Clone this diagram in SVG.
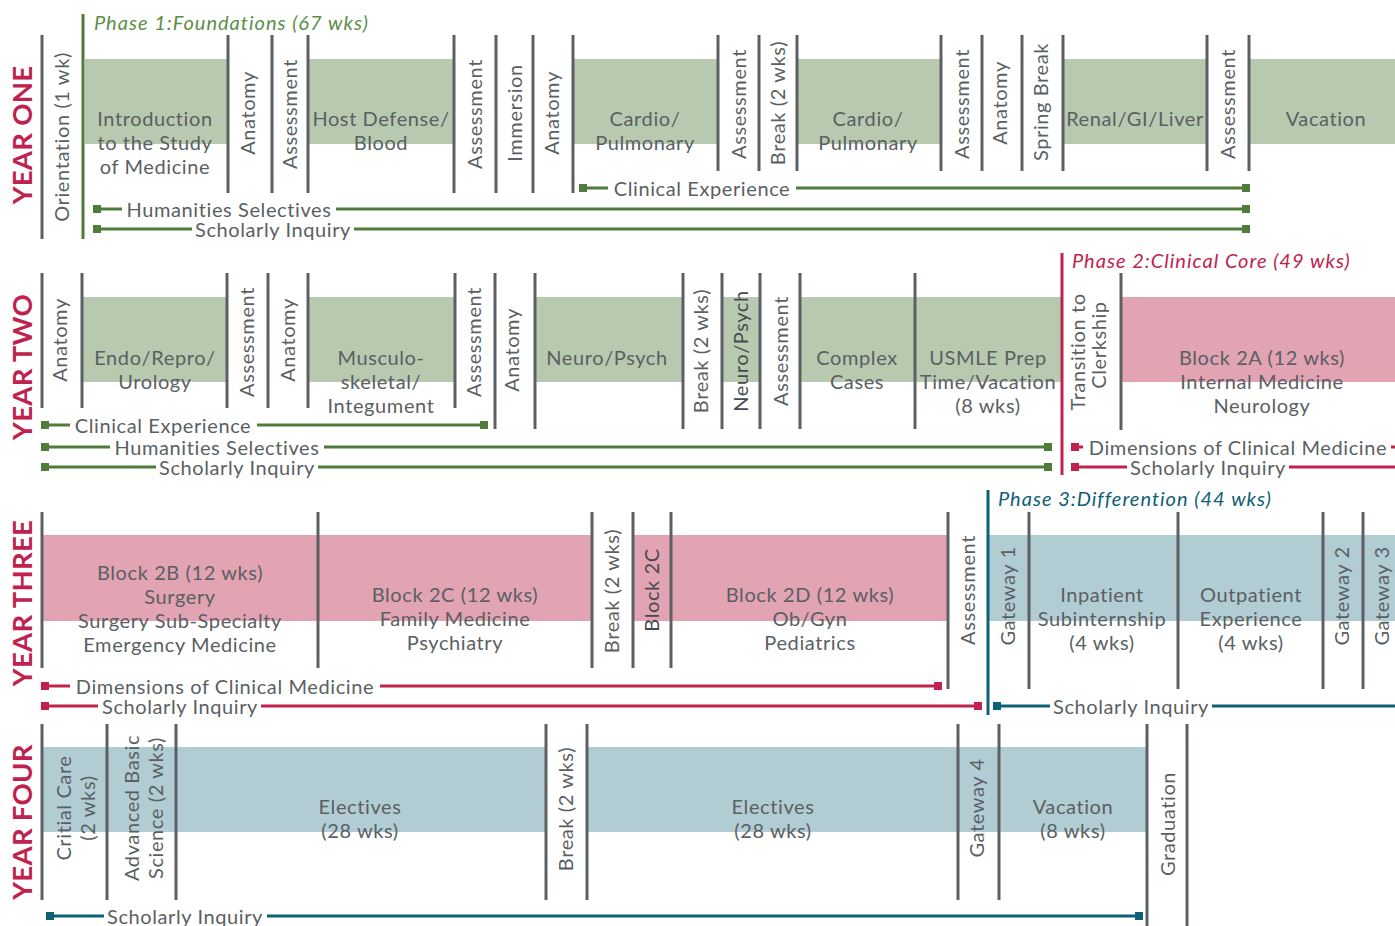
<svg xmlns="http://www.w3.org/2000/svg" width="1395" height="926" viewBox="0 0 1395 926">
<style>
text{font-family:Lato,"Liberation Sans",sans-serif;font-size:20px;fill:#5a5f63;letter-spacing:0.6px}
.c{text-anchor:middle}
.dk{fill:#464a4e}
.yr{font-weight:bold;font-size:27.5px;fill:#c0224e;text-anchor:middle;letter-spacing:0.3px}
.ph{font-style:italic;letter-spacing:1px}
.div{stroke:#5c6064;stroke-width:3}
.gb{fill:#b7cab0}.pb{fill:#e2a3b2}.tb{fill:#b2ccd3}
.gl{stroke:#4f7b3b;stroke-width:3}.gs{fill:#4f7b3b}
.rl{stroke:#c0224e;stroke-width:3}.rs{fill:#c0224e}
.tl{stroke:#0e6075;stroke-width:3}.ts{fill:#0e6075}
</style>
<rect width="1395" height="926" fill="#fff"/>

<!-- ===== YEAR ONE ===== -->
<g id="year-one">
<text class="yr" transform="translate(32,135) rotate(-90)">YEAR ONE</text>
<g class="bands">
<rect class="gb" x="85" y="59" width="143" height="85"/>
<rect class="gb" x="308" y="59" width="146" height="85"/>
<rect class="gb" x="573" y="59" width="145" height="85"/>
<rect class="gb" x="797" y="59" width="144" height="85"/>
<rect class="gb" x="1063" y="59" width="144" height="85"/>
<rect class="gb" x="1249" y="59" width="146" height="85"/>
</g>
<g class="dividers">
<line class="div" x1="42" y1="35" x2="42" y2="239"/>
<line class="div" x1="228" y1="35" x2="228" y2="193"/>
<line class="div" x1="272" y1="35" x2="272" y2="193"/>
<line class="div" x1="308" y1="35" x2="308" y2="193"/>
<line class="div" x1="454" y1="35" x2="454" y2="193"/>
<line class="div" x1="496" y1="35" x2="496" y2="193"/>
<line class="div" x1="533" y1="35" x2="533" y2="193"/>
<line class="div" x1="573" y1="35" x2="573" y2="193"/>
<line class="div" x1="718" y1="35" x2="718" y2="171"/>
<line class="div" x1="759" y1="35" x2="759" y2="171"/>
<line class="div" x1="797" y1="35" x2="797" y2="171"/>
<line class="div" x1="941" y1="35" x2="941" y2="171"/>
<line class="div" x1="982" y1="35" x2="982" y2="171"/>
<line class="div" x1="1022" y1="35" x2="1022" y2="171"/>
<line class="div" x1="1063" y1="35" x2="1063" y2="171"/>
<line class="div" x1="1207" y1="35" x2="1207" y2="171"/>
<line class="div" x1="1249" y1="35" x2="1249" y2="171"/>
</g>
<g id="phase1">
<line class="gl" x1="83" y1="14" x2="83" y2="239"/>
<text class="ph" x="94" y="30" style="fill:#5a8f47">Phase 1:Foundations (67 wks)</text>
</g>
<g id="y1-orientation"><text class="c" transform="translate(69,137) rotate(-90)">Orientation (1 wk)</text></g>
<g id="y1-intro"><text class="c" x="155" y="126">Introduction</text><text class="c" x="155" y="150">to the Study</text><text class="c" x="155" y="174">of Medicine</text></g>
<g id="y1-anatomy1"><text class="c" transform="translate(255,113) rotate(-90)">Anatomy</text></g>
<g id="y1-assess1"><text class="c" transform="translate(297,114) rotate(-90)">Assessment</text></g>
<g id="y1-host"><text class="c" x="381" y="126">Host Defense/</text><text class="c" x="381" y="150">Blood</text></g>
<g id="y1-assess2"><text class="c" transform="translate(482,114) rotate(-90)">Assessment</text></g>
<g id="y1-immersion"><text class="c" transform="translate(522,113) rotate(-90)">Immersion</text></g>
<g id="y1-anatomy2"><text class="c" transform="translate(559,113) rotate(-90)">Anatomy</text></g>
<g id="y1-cardio1"><text class="c" x="645" y="126">Cardio/</text><text class="c" x="645" y="150">Pulmonary</text></g>
<g id="y1-assess3"><text class="c" transform="translate(746,104) rotate(-90)">Assessment</text></g>
<g id="y1-break"><text class="c" transform="translate(785,103) rotate(-90)">Break (2 wks)</text></g>
<g id="y1-cardio2"><text class="c" x="868" y="126">Cardio/</text><text class="c" x="868" y="150">Pulmonary</text></g>
<g id="y1-assess4"><text class="c" transform="translate(969,104) rotate(-90)">Assessment</text></g>
<g id="y1-anatomy3"><text class="c" transform="translate(1007,103) rotate(-90)">Anatomy</text></g>
<g id="y1-spring"><text class="c" transform="translate(1048,102) rotate(-90)">Spring Break</text></g>
<g id="y1-renal"><text class="c" x="1135" y="126">Renal/GI/Liver</text></g>
<g id="y1-assess5"><text class="c" transform="translate(1235,104) rotate(-90)">Assessment</text></g>
<g id="y1-vacation"><text class="c" x="1326" y="126">Vacation</text></g>
</g>

<!-- ===== YEAR TWO ===== -->
<g id="year-two">
<text class="yr" transform="translate(32,367) rotate(-90)">YEAR TWO</text>
<g class="bands">
<rect class="gb" x="82" y="297" width="145" height="85"/>
<rect class="gb" x="308" y="297" width="147" height="85"/>
<rect class="gb" x="535" y="297" width="148" height="85"/>
<rect class="gb" x="722" y="297" width="38" height="85"/>
<rect class="gb" x="800" y="297" width="261" height="85"/>
<rect class="pb" x="1121" y="297" width="274" height="85"/>
</g>
<g class="dividers">
<line class="div" x1="42" y1="273" x2="42" y2="408"/>
<line class="div" x1="82" y1="273" x2="82" y2="408"/>
<line class="div" x1="227" y1="273" x2="227" y2="408"/>
<line class="div" x1="268" y1="273" x2="268" y2="408"/>
<line class="div" x1="308" y1="273" x2="308" y2="408"/>
<line class="div" x1="455" y1="273" x2="455" y2="408"/>
<line class="div" x1="495" y1="273" x2="495" y2="429"/>
<line class="div" x1="535" y1="273" x2="535" y2="429"/>
<line class="div" x1="683" y1="273" x2="683" y2="429"/>
<line class="div" x1="722" y1="273" x2="722" y2="429"/>
<line class="div" x1="760" y1="273" x2="760" y2="429"/>
<line class="div" x1="800" y1="273" x2="800" y2="429"/>
<line class="div" x1="915" y1="273" x2="915" y2="429"/>
<line class="div" x1="1121" y1="273" x2="1121" y2="430"/>
</g>
<g id="phase2">
<line class="rl" x1="1062" y1="253" x2="1062" y2="475"/>
<text class="ph" x="1072" y="268" style="fill:#c0224e">Phase 2:Clinical Core (49 wks)</text>
</g>
<g id="y2-anatomy1"><text class="c" transform="translate(67,340) rotate(-90)">Anatomy</text></g>
<g id="y2-endo"><text class="c" x="155" y="365">Endo/Repro/</text><text class="c" x="155" y="389">Urology</text></g>
<g id="y2-assess1"><text class="c" transform="translate(254,342) rotate(-90)">Assessment</text></g>
<g id="y2-anatomy2"><text class="c" transform="translate(295,340) rotate(-90)">Anatomy</text></g>
<g id="y2-musculo"><text class="c" x="381" y="365">Musculo-</text><text class="c" x="381" y="389">skeletal/</text><text class="c" x="381" y="413">Integument</text></g>
<g id="y2-assess2"><text class="c" transform="translate(481,342) rotate(-90)">Assessment</text></g>
<g id="y2-anatomy3"><text class="c" transform="translate(519,350) rotate(-90)">Anatomy</text></g>
<g id="y2-neuro"><text class="c" x="607" y="365">Neuro/Psych</text></g>
<g id="y2-break"><text class="c" transform="translate(708,351) rotate(-90)">Break (2 wks)</text></g>
<g id="y2-neuro2"><text class="c dk" transform="translate(748,351) rotate(-90)">Neuro/Psych</text></g>
<g id="y2-assess3"><text class="c" transform="translate(788,351) rotate(-90)">Assessment</text></g>
<g id="y2-complex"><text class="c" x="857" y="365">Complex</text><text class="c" x="857" y="389">Cases</text></g>
<g id="y2-usmle"><text class="c" x="988" y="365">USMLE Prep</text><text class="c" x="988" y="389">Time/Vacation</text><text class="c" x="988" y="413">(8 wks)</text></g>
<g id="y2-transition"><text class="c" transform="translate(1085,352) rotate(-90)">Transition to</text><text class="c" transform="translate(1106,345) rotate(-90)">Clerkship</text></g>
<g id="y2-block2a"><text class="c" x="1262" y="365">Block 2A (12 wks)</text><text class="c" x="1262" y="389">Internal Medicine</text><text class="c" x="1262" y="413">Neurology</text></g>
</g>

<!-- ===== YEAR THREE ===== -->
<g id="year-three">
<text class="yr" transform="translate(32,603) rotate(-90)">YEAR THREE</text>
<g class="bands">
<rect class="pb" x="42" y="535" width="550" height="86"/>
<rect class="pb" x="633" y="535" width="315" height="86"/>
<rect class="tb" x="988" y="535" width="407" height="86"/>
</g>
<g class="dividers">
<line class="div" x1="42" y1="512" x2="42" y2="668"/>
<line class="div" x1="318" y1="512" x2="318" y2="668"/>
<line class="div" x1="592" y1="512" x2="592" y2="668"/>
<line class="div" x1="633" y1="512" x2="633" y2="668"/>
<line class="div" x1="671" y1="512" x2="671" y2="668"/>
<line class="div" x1="948" y1="512" x2="948" y2="689"/>
<line class="div" x1="1029" y1="512" x2="1029" y2="689"/>
<line class="div" x1="1178" y1="512" x2="1178" y2="689"/>
<line class="div" x1="1323" y1="512" x2="1323" y2="689"/>
<line class="div" x1="1363" y1="512" x2="1363" y2="689"/>
</g>
<g id="phase3">
<line class="tl" x1="988" y1="490" x2="988" y2="715"/>
<text class="ph" x="998" y="506" style="fill:#0e6075">Phase 3:Differention (44 wks)</text>
</g>
<g id="y3-block2b"><text class="c" x="180" y="580">Block 2B (12 wks)</text><text class="c" x="180" y="604">Surgery</text><text class="c" x="180" y="628">Surgery Sub-Specialty</text><text class="c" x="180" y="652">Emergency Medicine</text></g>
<g id="y3-block2c"><text class="c" x="455" y="602">Block 2C (12 wks)</text><text class="c" x="455" y="626">Family Medicine</text><text class="c" x="455" y="650">Psychiatry</text></g>
<g id="y3-break"><text class="c" transform="translate(619,591) rotate(-90)">Break (2 wks)</text></g>
<g id="y3-block2c-b"><text class="c dk" transform="translate(659,590) rotate(-90)">Block 2C</text></g>
<g id="y3-block2d"><text class="c" x="810" y="602">Block 2D (12 wks)</text><text class="c" x="810" y="626">Ob/Gyn</text><text class="c" x="810" y="650">Pediatrics</text></g>
<g id="y3-assess"><text class="c" transform="translate(975,590) rotate(-90)">Assessment</text></g>
<g id="y3-gateway1"><text class="c" transform="translate(1015,596) rotate(-90)">Gateway 1</text></g>
<g id="y3-inpatient"><text class="c" x="1102" y="602">Inpatient</text><text class="c" x="1102" y="626">Subinternship</text><text class="c" x="1102" y="650">(4 wks)</text></g>
<g id="y3-outpatient"><text class="c" x="1251" y="602">Outpatient</text><text class="c" x="1251" y="626">Experience</text><text class="c" x="1251" y="650">(4 wks)</text></g>
<g id="y3-gateway2"><text class="c" transform="translate(1349,596) rotate(-90)">Gateway 2</text></g>
<g id="y3-gateway3"><text class="c" transform="translate(1389,596) rotate(-90)">Gateway 3</text></g>
</g>

<!-- ===== YEAR FOUR ===== -->
<g id="year-four">
<text class="yr" transform="translate(32,822) rotate(-90)">YEAR FOUR</text>
<g class="bands">
<rect class="tb" x="42" y="747" width="504" height="85"/>
<rect class="tb" x="587" y="747" width="560" height="85"/>
</g>
<g class="dividers">
<line class="div" x1="42" y1="724" x2="42" y2="900"/>
<line class="div" x1="107" y1="724" x2="107" y2="900"/>
<line class="div" x1="176" y1="724" x2="176" y2="900"/>
<line class="div" x1="546" y1="724" x2="546" y2="900"/>
<line class="div" x1="587" y1="724" x2="587" y2="900"/>
<line class="div" x1="958" y1="724" x2="958" y2="900"/>
<line class="div" x1="999" y1="724" x2="999" y2="900"/>
<line class="div" x1="1147" y1="724" x2="1147" y2="926"/>
<line class="div" x1="1187" y1="724" x2="1187" y2="926"/>
</g>
<g id="y4-critical"><text class="c" transform="translate(71,808) rotate(-90)">Critial Care</text><text class="c" transform="translate(95,808) rotate(-90)">(2 wks)</text></g>
<g id="y4-advanced"><text class="c" transform="translate(139,808) rotate(-90)">Advanced Basic</text><text class="c" transform="translate(163,808) rotate(-90)">Science (2 wks)</text></g>
<g id="y4-electives1"><text class="c" x="360" y="814">Electives</text><text class="c" x="360" y="838">(28 wks)</text></g>
<g id="y4-break"><text class="c" transform="translate(573,809) rotate(-90)">Break (2 wks)</text></g>
<g id="y4-electives2"><text class="c" x="773" y="814">Electives</text><text class="c" x="773" y="838">(28 wks)</text></g>
<g id="y4-gateway4"><text class="c" transform="translate(984,808) rotate(-90)">Gateway 4</text></g>
<g id="y4-vacation"><text class="c" x="1073" y="814">Vacation</text><text class="c" x="1073" y="838">(8 wks)</text></g>
<g id="y4-graduation"><text class="c" transform="translate(1175,824) rotate(-90)">Graduation</text></g>
</g>

<!-- ===== CONNECTORS ===== -->
<g id="connectors">
<!-- Year one -->
<g id="c-y1-clinical"><rect class="gs" x="579" y="184" width="8" height="8"/><line class="gl" x1="587" y1="188" x2="608" y2="188"/><text class="c" x="702" y="196">Clinical Experience</text><line class="gl" x1="796" y1="188" x2="1243" y2="188"/><rect class="gs" x="1242" y="184" width="8" height="8"/></g>
<g id="c-y1-humanities"><rect class="gs" x="93" y="205" width="8" height="8"/><line class="gl" x1="101" y1="209" x2="122" y2="209"/><text class="c" x="229" y="217">Humanities Selectives</text><line class="gl" x1="336" y1="209" x2="1243" y2="209"/><rect class="gs" x="1242" y="205" width="8" height="8"/></g>
<g id="c-y1-scholarly"><rect class="gs" x="93" y="225" width="8" height="8"/><line class="gl" x1="101" y1="229" x2="192" y2="229"/><text class="c" x="273" y="237">Scholarly Inquiry</text><line class="gl" x1="354" y1="229" x2="1243" y2="229"/><rect class="gs" x="1242" y="225" width="8" height="8"/></g>
<!-- Year two -->
<g id="c-y2-clinical"><rect class="gs" x="41" y="421" width="8" height="8"/><line class="gl" x1="49" y1="425" x2="70" y2="425"/><text class="c" x="163" y="433">Clinical Experience</text><line class="gl" x1="257" y1="425" x2="481" y2="425"/><rect class="gs" x="480" y="421" width="8" height="8"/></g>
<g id="c-y2-humanities"><rect class="gs" x="41" y="443" width="8" height="8"/><line class="gl" x1="49" y1="447" x2="110" y2="447"/><text class="c" x="217" y="455">Humanities Selectives</text><line class="gl" x1="324" y1="447" x2="1045" y2="447"/><rect class="gs" x="1044" y="443" width="8" height="8"/></g>
<g id="c-y2-scholarly"><rect class="gs" x="41" y="463" width="8" height="8"/><line class="gl" x1="49" y1="467" x2="156" y2="467"/><text class="c" x="237" y="475">Scholarly Inquiry</text><line class="gl" x1="318" y1="467" x2="1045" y2="467"/><rect class="gs" x="1044" y="463" width="8" height="8"/></g>
<g id="c-y2-dimensions"><rect class="rs" x="1071" y="443" width="8" height="8"/><line class="rl" x1="1079" y1="447" x2="1083" y2="447"/><text class="c" x="1238" y="455">Dimensions of Clinical Medicine</text><line class="rl" x1="1391" y1="447" x2="1395" y2="447"/></g>
<g id="c-y2-scholarly-r"><rect class="rs" x="1071" y="463" width="8" height="8"/><line class="rl" x1="1079" y1="467" x2="1127" y2="467"/><text class="c" x="1208" y="475">Scholarly Inquiry</text><line class="rl" x1="1289" y1="467" x2="1395" y2="467"/></g>
<!-- Year three -->
<g id="c-y3-dimensions"><rect class="rs" x="41" y="682" width="8" height="8"/><line class="rl" x1="49" y1="686" x2="70" y2="686"/><text class="c" x="225" y="694">Dimensions of Clinical Medicine</text><line class="rl" x1="380" y1="686" x2="935" y2="686"/><rect class="rs" x="934" y="682" width="8" height="8"/></g>
<g id="c-y3-scholarly-r"><rect class="rs" x="41" y="702" width="8" height="8"/><line class="rl" x1="49" y1="706" x2="98" y2="706"/><text class="c" x="180" y="714">Scholarly Inquiry</text><line class="rl" x1="261" y1="706" x2="975" y2="706"/><rect class="rs" x="974" y="702" width="8" height="8"/></g>
<g id="c-y3-scholarly-t"><rect class="ts" x="993" y="702" width="8" height="8"/><line class="tl" x1="1001" y1="706" x2="1050" y2="706"/><text class="c" x="1131" y="714">Scholarly Inquiry</text><line class="tl" x1="1212" y1="706" x2="1395" y2="706"/></g>
<!-- Year four -->
<g id="c-y4-scholarly"><rect class="ts" x="46" y="912" width="8" height="8"/><line class="tl" x1="54" y1="916" x2="104" y2="916"/><text class="c" x="185" y="924">Scholarly Inquiry</text><line class="tl" x1="267" y1="916" x2="1136" y2="916"/><rect class="ts" x="1135" y="912" width="8" height="8"/></g>
</g>
</svg>
